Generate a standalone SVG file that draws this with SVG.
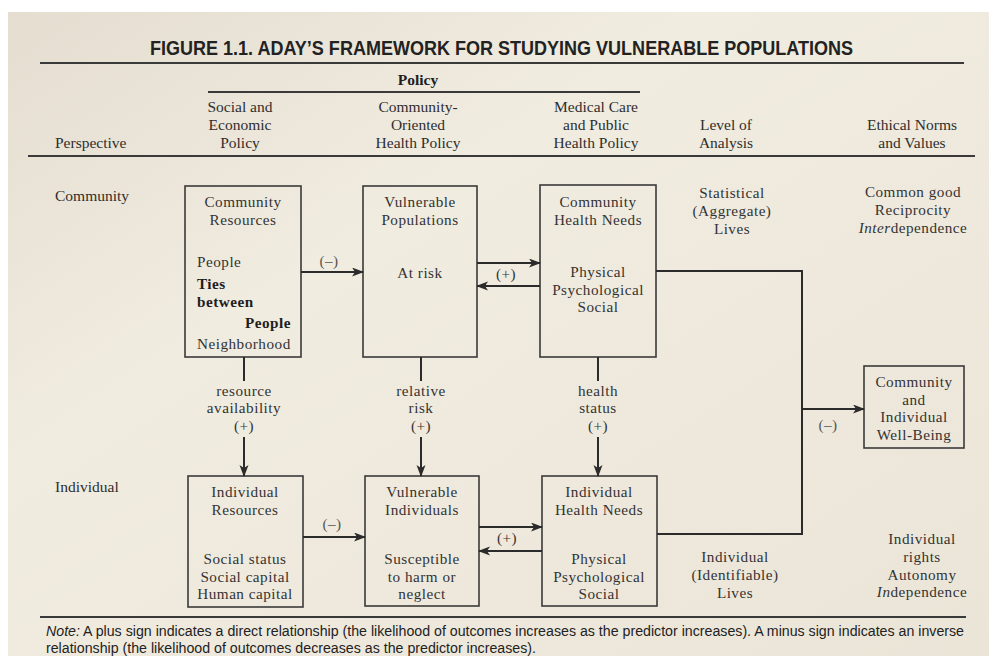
<svg xmlns="http://www.w3.org/2000/svg" width="989" height="656" viewBox="0 0 989 656">
<defs>
<linearGradient id="bg" x1="0" y1="0" x2="1" y2="1">
<stop offset="0" stop-color="#e4ddd0"/>
<stop offset="0.35" stop-color="#f1ece0"/>
<stop offset="1" stop-color="#ebe5d8"/>
</linearGradient>
<marker id="ah" markerUnits="userSpaceOnUse" markerWidth="12" markerHeight="10" refX="11" refY="4.5" orient="auto">
<path d="M0,0 L12,4.5 L0,9 L3,4.5 z" fill="#2b2b2b"/>
</marker>
<style>
.t{font-family:"Liberation Serif","DejaVu Serif",serif;font-size:15.2px;letter-spacing:0.5px;fill:#333;text-anchor:middle}
.h{font-family:"Liberation Serif","DejaVu Serif",serif;font-size:15.5px;fill:#2e2e2e;text-anchor:middle}
.l{text-anchor:start}
.b{font-weight:bold;fill:#1e1e1e}
.box{fill:none;stroke:#3a3a3a;stroke-width:1.6}
.c{fill:none;stroke:#2b2b2b;stroke-width:2}
.rule{stroke:#3a3a3a;fill:none}
.s{font-family:"Liberation Sans","DejaVu Sans",sans-serif;fill:#222}
</style>
</defs>
<rect x="0" y="0" width="989" height="656" fill="#ffffff"/>
<rect x="8" y="12" width="981" height="644" fill="url(#bg)"/>

<text class="s" x="150" y="55" font-size="20.5" font-weight="bold" textLength="703" lengthAdjust="spacingAndGlyphs">FIGURE 1.1.  ADAY’S FRAMEWORK FOR STUDYING VULNERABLE POPULATIONS</text>
<line class="rule" x1="40" y1="63" x2="964" y2="63" stroke-width="2"/>

<g id="header">
<text class="h b" x="418" y="85">Policy</text>
<line class="rule" x1="208" y1="92" x2="640" y2="92" stroke-width="2"/>
<text class="h" x="240" y="112">Social and</text>
<text class="h" x="240" y="130">Economic</text>
<text class="h" x="240" y="148">Policy</text>
<text class="h" x="418" y="112">Community-</text>
<text class="h" x="418" y="130">Oriented</text>
<text class="h" x="418" y="148">Health Policy</text>
<text class="h" x="596" y="112">Medical Care</text>
<text class="h" x="596" y="130">and Public</text>
<text class="h" x="596" y="148">Health Policy</text>
<text class="h" x="726" y="130">Level of</text>
<text class="h" x="726" y="148">Analysis</text>
<text class="h" x="912" y="130">Ethical Norms</text>
<text class="h" x="912" y="148">and Values</text>
<text class="h l" x="55" y="148">Perspective</text>
<line class="rule" x1="28" y1="156" x2="975" y2="156" stroke-width="2.2"/>
</g>

<g id="row-labels">
<text class="h l" x="55" y="201">Community</text>
<text class="h l" x="55" y="492">Individual</text>
</g>

<g id="community-resources">
<rect class="box" x="185" y="186" width="116" height="171"/>
<text class="t" x="243" y="207">Community</text>
<text class="t" x="243" y="225">Resources</text>
<text class="t l" x="197" y="267">People</text>
<text class="t l b" x="197" y="289">Ties</text>
<text class="t l b" x="197" y="307">between</text>
<text class="t b" x="291" y="328" style="text-anchor:end">People</text>
<text class="t l" x="197" y="349">Neighborhood</text>
</g>

<g id="vulnerable-populations">
<rect class="box" x="363" y="186" width="114" height="171"/>
<text class="t" x="420" y="207">Vulnerable</text>
<text class="t" x="420" y="225">Populations</text>
<text class="t" x="420" y="278">At risk</text>
</g>

<g id="community-health-needs">
<rect class="box" x="540" y="185" width="116" height="172"/>
<text class="t" x="598" y="207">Community</text>
<text class="t" x="598" y="225">Health Needs</text>
<text class="t" x="598" y="277">Physical</text>
<text class="t" x="598" y="294.5">Psychological</text>
<text class="t" x="598" y="312">Social</text>
</g>

<g id="level-community">
<text class="t" x="732" y="198">Statistical</text>
<text class="t" x="732" y="216">(Aggregate)</text>
<text class="t" x="732" y="234">Lives</text>
</g>

<g id="ethics-community">
<text class="t" x="913" y="197">Common good</text>
<text class="t" x="913" y="215">Reciprocity</text>
<text class="t" x="913" y="233"><tspan font-style="italic">Inter</tspan>dependence</text>
</g>

<g id="well-being">
<rect class="box" x="864" y="366" width="100" height="82"/>
<text class="t" x="914" y="387">Community</text>
<text class="t" x="914" y="404.5">and</text>
<text class="t" x="914" y="422">Individual</text>
<text class="t" x="914" y="439.5">Well-Being</text>
</g>

<g id="individual-resources">
<rect class="box" x="188" y="476" width="115" height="131"/>
<text class="t" x="245" y="497">Individual</text>
<text class="t" x="245" y="514.5">Resources</text>
<text class="t" x="245" y="564">Social status</text>
<text class="t" x="245" y="581.5">Social capital</text>
<text class="t" x="245" y="599">Human capital</text>
</g>

<g id="vulnerable-individuals">
<rect class="box" x="365" y="476" width="114" height="130"/>
<text class="t" x="422" y="497">Vulnerable</text>
<text class="t" x="422" y="514.5">Individuals</text>
<text class="t" x="422" y="564">Susceptible</text>
<text class="t" x="422" y="581.5">to harm or</text>
<text class="t" x="422" y="599">neglect</text>
</g>

<g id="individual-health-needs">
<rect class="box" x="542" y="476" width="115" height="130"/>
<text class="t" x="599" y="497">Individual</text>
<text class="t" x="599" y="514.5">Health Needs</text>
<text class="t" x="599" y="564">Physical</text>
<text class="t" x="599" y="581.5">Psychological</text>
<text class="t" x="599" y="599">Social</text>
</g>

<g id="level-individual">
<text class="t" x="735" y="562">Individual</text>
<text class="t" x="735" y="580">(Identifiable)</text>
<text class="t" x="735" y="598">Lives</text>
</g>

<g id="ethics-individual">
<text class="t" x="922" y="544">Individual</text>
<text class="t" x="922" y="562">rights</text>
<text class="t" x="922" y="579.5">Autonomy</text>
<text class="t" x="922" y="597">
<tspan font-style="italic">In</tspan>dependence</text>
</g>

<g id="connectors">
<path class="c" d="M301,272 H363" marker-end="url(#ah)"/>
<path class="c" d="M477,263 H540" marker-end="url(#ah)"/>
<path class="c" d="M540,286 H477" marker-end="url(#ah)"/>
<path class="c" d="M656,271 H802 V534 H657"/>
<path class="c" d="M802,409 H864" marker-end="url(#ah)"/>
<path class="c" d="M244,357 V381"/>
<path class="c" d="M244,437 V476" marker-end="url(#ah)"/>
<path class="c" d="M421,357 V381"/>
<path class="c" d="M421,437 V476" marker-end="url(#ah)"/>
<path class="c" d="M598,357 V381"/>
<path class="c" d="M598,437 V476" marker-end="url(#ah)"/>
<path class="c" d="M303,537 H365" marker-end="url(#ah)"/>
<path class="c" d="M479,527 H542" marker-end="url(#ah)"/>
<path class="c" d="M542,551 H479" marker-end="url(#ah)"/>
<text class="t" x="329" y="266" style="fill:#555">(–)</text>
<text class="t" x="506" y="279">(+)</text>
<text class="t" x="828" y="430" style="fill:#555">(–)</text>
<text class="t" x="332" y="529" style="fill:#555">(–)</text>
<text class="t" x="507" y="543">(+)</text>
<text class="t" x="244" y="395.5">resource</text>
<text class="t" x="244" y="413">availability</text>
<text class="t" x="244" y="430.5">(+)</text>
<text class="t" x="421" y="395.5">relative</text>
<text class="t" x="421" y="413">risk</text>
<text class="t" x="421" y="430.5">(+)</text>
<text class="t" x="598" y="395.5">health</text>
<text class="t" x="598" y="413">status</text>
<text class="t" x="598" y="430.5">(+)</text>
</g>

<g id="note">
<line class="rule" x1="40" y1="617" x2="966" y2="617" stroke-width="2"/>
<text class="s" x="46" y="636" font-size="14" textLength="918" lengthAdjust="spacingAndGlyphs"><tspan font-style="italic">Note:</tspan> A plus sign indicates a direct relationship (the likelihood of outcomes increases as the predictor increases). A minus sign indicates an inverse</text>
<text class="s" x="46" y="653" font-size="14" textLength="490" lengthAdjust="spacingAndGlyphs">relationship (the likelihood of outcomes decreases as the predictor increases).</text>
</g>
</svg>
